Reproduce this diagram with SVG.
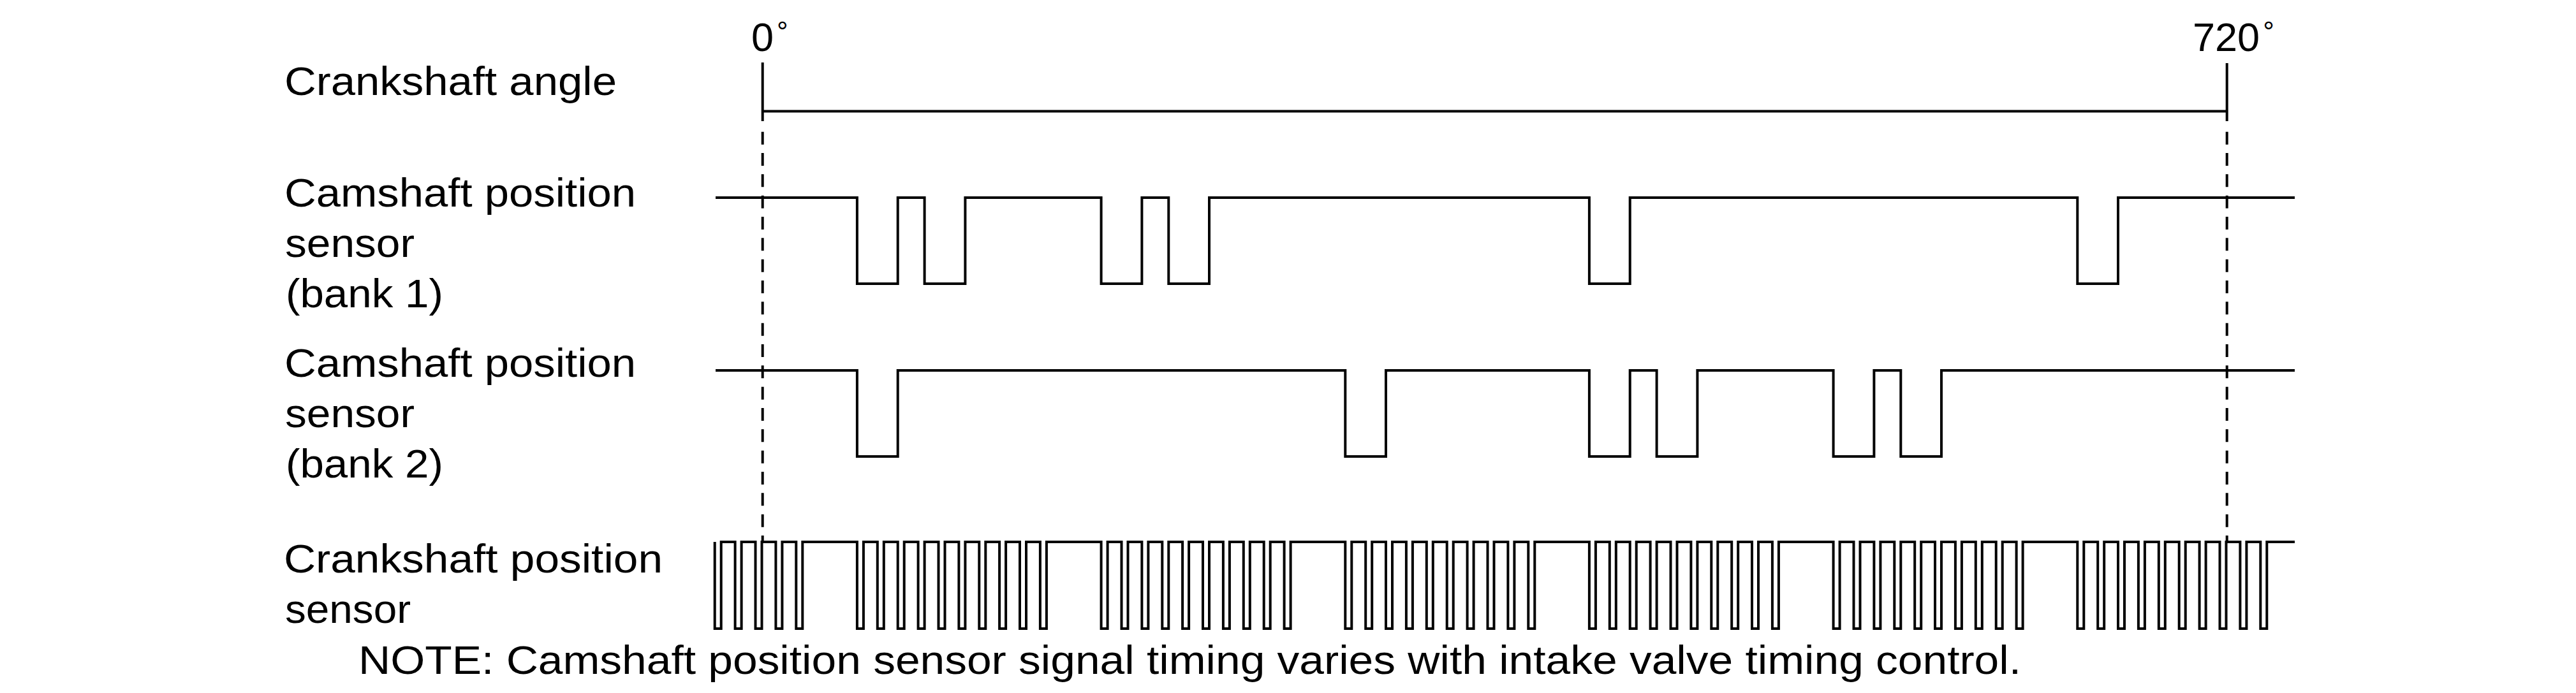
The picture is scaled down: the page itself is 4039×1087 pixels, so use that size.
<svg xmlns="http://www.w3.org/2000/svg" width="4039" height="1087" viewBox="0 0 4039 1087">
<style>
  text { font-family: "Liberation Sans", Arial, Helvetica, sans-serif; font-size: 63px; fill: #000; }
  .deg { font-size: 44px; }
  .wave { fill: none; stroke: #000; stroke-width: 4; stroke-linejoin: miter; stroke-linecap: butt; }
  .axis { fill: none; stroke: #000; stroke-width: 4; }
  .dash { fill: none; stroke: #000; stroke-width: 4; stroke-dasharray: 20 13.333; }
</style>
<rect x="0" y="0" width="4039" height="1087" fill="#fff"/>

<g id="labels">
  <g id="label-crank-angle"><text x="446" y="149" textLength="521" lengthAdjust="spacingAndGlyphs">Crankshaft angle</text></g>
  <g id="label-cam-bank1">
    <text x="446" y="324" textLength="551" lengthAdjust="spacingAndGlyphs">Camshaft position</text>
    <text x="447" y="403" textLength="203" lengthAdjust="spacingAndGlyphs">sensor</text>
    <text x="448" y="482" textLength="247" lengthAdjust="spacingAndGlyphs">(bank 1)</text>
  </g>
  <g id="label-cam-bank2">
    <text x="446" y="591" textLength="551" lengthAdjust="spacingAndGlyphs">Camshaft position</text>
    <text x="447" y="670" textLength="203" lengthAdjust="spacingAndGlyphs">sensor</text>
    <text x="448" y="749" textLength="247" lengthAdjust="spacingAndGlyphs">(bank 2)</text>
  </g>
  <g id="label-crank-sensor">
    <text x="445" y="898" textLength="594" lengthAdjust="spacingAndGlyphs">Crankshaft position</text>
    <text x="447" y="977" textLength="197" lengthAdjust="spacingAndGlyphs">sensor</text>
  </g>
  <g id="label-0deg"><text x="1178" y="80">0<tspan class="deg" dx="5" dy="-15">°</tspan></text></g>
  <g id="label-720deg"><text x="3438" y="80">720<tspan class="deg" dx="5" dy="-15">°</tspan></text></g>
  <g id="note"><text x="562" y="1057" textLength="2607" lengthAdjust="spacingAndGlyphs">NOTE: Camshaft position sensor signal timing varies with intake valve timing control.</text></g>
</g>

<g id="axis">
  <line class="axis" x1="1195.7" y1="174.5" x2="3491.7" y2="174.5"/>
  <line class="axis" x1="1195.7" y1="98" x2="1195.7" y2="190"/>
  <line class="axis" x1="3491.7" y1="99" x2="3491.7" y2="190"/>
  <line class="dash" x1="1195.7" y1="206.7" x2="1195.7" y2="850"/>
  <line class="dash" x1="3491.7" y1="206.7" x2="3491.7" y2="850"/>
</g>

<g id="cam-bank1">
  <path class="wave" d="M1122,310 H1343.9 V445 H1407.7 V310 H1449.6 V445 H1513.4 V310 H1726.6 V445 H1790.4 V310 H1832.3 V445 H1896 V310 H2491.9 V445 H2555.7 V310 H3257.3 V445 H3321 V310 H3598"/>
</g>

<g id="cam-bank2">
  <path class="wave" d="M1122,581 H1343.9 V716 H1407.7 V581 H2109.3 V716 H2173 V581 H2491.9 V716 H2555.7 V581 H2597.6 V716 H2661.4 V581 H2874.6 V716 H2938.4 V581 H2980.3 V716 H3044 V581 H3598"/>
</g>

<g id="crank-sensor">
  <path class="wave" d="M1120.7,850 V986 H1130.7 V850 H1152.6 V986 H1162.6 V850 H1184.5 V986 H1194.5 V850 H1216.4 V986 H1226.4 V850 H1248.3 V986 H1258.3 V850
  H1343.9 V986 H1353.9 V850 H1375.8 V986 H1385.8 V850 H1407.7 V986 H1417.7 V850 H1439.6 V986 H1449.6 V850 H1471.5 V986 H1481.5 V850 H1503.4 V986 H1513.4 V850 H1535.3 V986 H1545.3 V850 H1567.1 V986 H1577.1 V850 H1599 V986 H1609 V850 H1630.9 V986 H1640.9 V850
  H1726.6 V986 H1736.6 V850 H1758.5 V986 H1768.5 V850 H1790.4 V986 H1800.4 V850 H1822.3 V986 H1832.3 V850 H1854.1 V986 H1864.1 V850 H1886 V986 H1896 V850 H1917.9 V986 H1927.9 V850 H1949.8 V986 H1959.8 V850 H1981.7 V986 H1991.7 V850 H2013.6 V986 H2023.6 V850
  H2109.3 V986 H2119.3 V850 H2141.2 V986 H2151.2 V850 H2173 V986 H2183 V850 H2204.9 V986 H2214.9 V850 H2236.8 V986 H2246.8 V850 H2268.7 V986 H2278.7 V850 H2300.6 V986 H2310.6 V850 H2332.5 V986 H2342.5 V850 H2364.4 V986 H2374.4 V850 H2396.3 V986 H2406.3 V850
  H2491.9 V986 H2501.9 V850 H2523.8 V986 H2533.8 V850 H2555.7 V986 H2565.7 V850 H2587.6 V986 H2597.6 V850 H2619.5 V986 H2629.5 V850 H2651.4 V986 H2661.4 V850 H2683.3 V986 H2693.3 V850 H2715.2 V986 H2725.2 V850 H2747 V986 H2757 V850 H2778.9 V986 H2788.9 V850
  H2874.6 V986 H2884.6 V850 H2906.5 V986 H2916.5 V850 H2938.4 V986 H2948.4 V850 H2970.3 V986 H2980.3 V850 H3002.2 V986 H3012.2 V850 H3034 V986 H3044 V850 H3065.9 V986 H3075.9 V850 H3097.8 V986 H3107.8 V850 H3129.7 V986 H3139.7 V850 H3161.6 V986 H3171.6 V850
  H3257.3 V986 H3267.3 V850 H3289.2 V986 H3299.2 V850 H3321 V986 H3331 V850 H3352.9 V986 H3362.9 V850 H3384.8 V986 H3394.8 V850 H3416.7 V986 H3426.7 V850 H3448.6 V986 H3458.6 V850 H3480.5 V986 H3490.5 V850 H3512.4 V986 H3522.4 V850 H3544.3 V986 H3554.3 V850
  H3598"/>
</g>
</svg>
